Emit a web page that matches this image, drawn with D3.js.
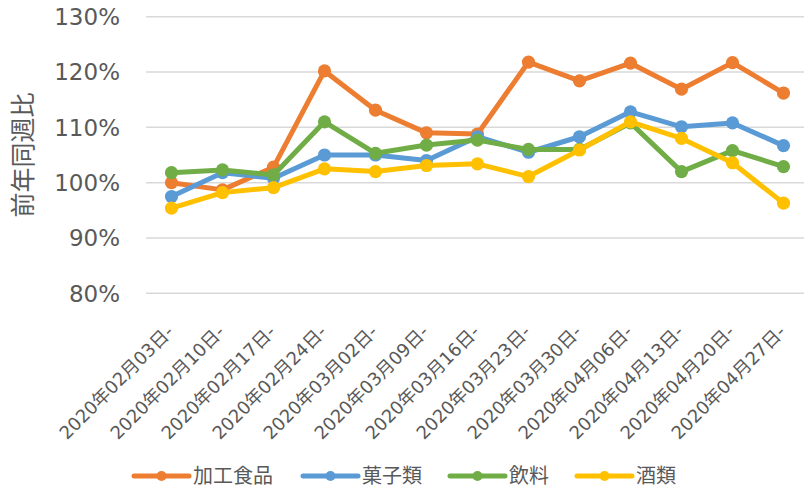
<!DOCTYPE html>
<html>
<head>
<meta charset="utf-8">
<script src="https://cdn.jsdelivr.net/npm/d3@7"></script>
<style>
  body { margin: 0; background: #fff; }
  text { font-family: "DejaVu Sans", "Noto Sans CJK JP", sans-serif; fill: #595959; }
</style>
</head>
<body>
<div id="chart"></div>
<script>
// categories (week start)
let weeks = ["2020年02月03日-", "2020年02月10日-", "2020年02月17日-", "2020年02月24日-",
  "2020年03月02日-", "2020年03月09日-", "2020年03月16日-", "2020年03月23日-",
  "2020年03月30日-", "2020年04月06日-", "2020年04月13日-", "2020年04月20日-", "2020年04月27日-"];

// series values (% vs same week last year)
let kakou = [100.0, 98.7, 102.8, 120.2, 113.1, 109.0, 108.8, 121.8, 118.4, 121.6, 116.9, 121.7, 116.2];
let kashi = [97.5, 101.8, 100.8, 105.0, 105.0, 104.0, 108.3, 105.5, 108.3, 112.8, 110.1, 110.8, 106.7];
let inryo = [101.8, 102.3, 101.4, 111.0, 105.3, 106.8, 107.7, 106.0, 106.0, 110.8, 102.0, 105.8, 102.9];
let sake  = [95.4, 98.2, 99.1, 102.5, 102.0, 103.1, 103.4, 101.1, 105.9, 111.0, 108.0, 103.6, 96.3];

let seriesNames = ["加工食品", "菓子類", "飲料", "酒類"];
let seriesColors = ["#ED7D31", "#5B9BD5", "#70AD47", "#FFC000"];
let yTicks = [80, 90, 100, 110, 120, 130];

let series = [kakou, kashi, inryo, sake].map((vals, i) => ({
  name: seriesNames[i], color: seriesColors[i], values: vals
}));

let svgWidth = 804, svgHeight = 489;
let svg = d3.select("#chart").append("svg")
  .attr("width", svgWidth)
  .attr("height", svgHeight);

// plot area
let x = d3.scalePoint().domain(weeks).range([146, 809]).padding(0.5);
let y = d3.scaleLinear().domain([80, 130]).range([293.3, 16.7]);

// gridlines
svg.append("g").selectAll("line")
  .data(yTicks)
  .enter().append("line")
  .attr("x1", 146).attr("x2", 809)
  .attr("y1", d => y(d)).attr("y2", d => y(d))
  .attr("stroke", "#d9d9d9")
  .attr("stroke-width", 1.5);

// y axis labels
svg.append("g").selectAll("text")
  .data(yTicks)
  .enter().append("text")
  .attr("x", 120)
  .attr("y", d => y(d))
  .attr("dy", "0.36em")
  .attr("text-anchor", "end")
  .style("font-size", "23px")
  .text(d => d + "%");

// y axis title
svg.append("text")
  .attr("transform", "translate(32,155) rotate(-90)")
  .attr("text-anchor", "middle")
  .style("font-size", "25px")
  .style("font-family", "'Noto Sans CJK JP', sans-serif")
  .text("前年同週比");

// x axis labels
svg.append("g").selectAll("text")
  .data(weeks)
  .enter().append("text")
  .attr("transform", d => `translate(${x(d) + 3},333) rotate(-45)`)
  .attr("text-anchor", "end")
  .style("font-size", "18px")
  .text(d => d);

// lines + markers
let line = d3.line()
  .x((d, i) => x(weeks[i]))
  .y(d => y(d));

series.forEach(s => {
  let g = svg.append("g");
  g.append("path")
    .datum(s.values)
    .attr("d", line)
    .attr("fill", "none")
    .attr("stroke", s.color)
    .attr("stroke-width", 5)
    .attr("stroke-linejoin", "round");
  g.selectAll("circle")
    .data(s.values)
    .enter().append("circle")
    .attr("cx", (d, i) => x(weeks[i]))
    .attr("cy", d => y(d))
    .attr("r", 6.6)
    .attr("fill", s.color);
});

// legend
let legendX = [134, 303, 450, 577];
let legend = svg.append("g").selectAll("g")
  .data(series)
  .enter().append("g")
  .attr("transform", (d, i) => `translate(${legendX[i]},476)`);
legend.append("line")
  .attr("x1", 0).attr("x2", 55)
  .attr("stroke", d => d.color)
  .attr("stroke-width", 5)
  .attr("stroke-linecap", "round");
legend.append("circle")
  .attr("cx", 27.5).attr("r", 5)
  .attr("fill", d => d.color);
legend.append("text")
  .attr("x", 59)
  .attr("dy", "0.36em")
  .style("font-size", "20px")
  .style("font-family", "'Noto Sans CJK JP', sans-serif")
  .text(d => d.name);
</script>
</body>
</html>
